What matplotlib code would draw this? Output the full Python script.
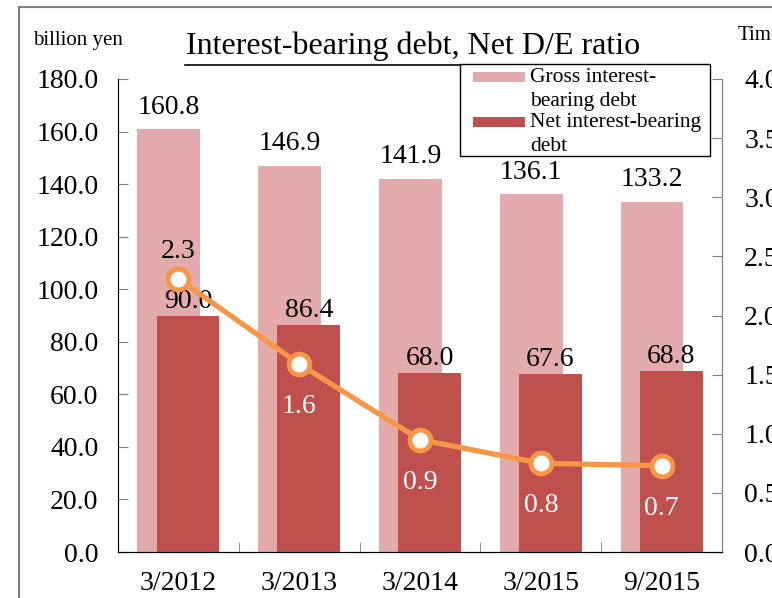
import matplotlib
matplotlib.use("Agg")
import matplotlib.pyplot as plt
from matplotlib.patches import Rectangle
import numpy as np

plt.rcParams['font.family'] = ['Liberation Serif', 'DejaVu Serif']

periods = ['3/2012', '3/2013', '3/2014', '3/2015', '9/2015']
gross_debt = [160.8, 146.9, 141.9, 136.1, 133.2]
net_debt = [90.0, 86.4, 68.0, 67.6, 68.8]
de_ratio = [2.31, 1.59, 0.95, 0.75, 0.73]
de_labels = ['2.3', '1.6', '0.9', '0.8', '0.7']
legend_labels = ['Gross interest-\nbearing debt', 'Net interest-bearing\ndebt']

gross_col = '#E3ABAB'
net_col = '#C0504D'
line_col = '#F79646'
W, H = 772, 598


def fx(px):
    return px / W


def fy(py):
    return 1 - py / H


fig = plt.figure(figsize=(W / 100, H / 100), dpi=100)
# outer frame of the original slide
fig.patches.append(Rectangle((fx(19), -0.1), 1.2, fy(7) + 0.1,
                             transform=fig.transFigure, fill=False,
                             edgecolor='#808080', linewidth=1.5))

ax = fig.add_axes([fx(118), fy(552), (722 - 118) / W, (552 - 79) / H])
x = np.arange(len(periods))
w = 0.52
ax.bar(x - 0.08, gross_debt, w, color=gross_col, zorder=2)
ax.bar(x + 0.08, net_debt, w, color=net_col, zorder=3)

for i in x:
    ax.text(i - 0.08, gross_debt[i] + 8.5, f'{gross_debt[i]:.1f}', ha='center', va='center', fontsize=20)
    ax.text(i + 0.08, net_debt[i] + 5.5, f'{net_debt[i]:.1f}', ha='center', va='center', fontsize=20)

ax.set_xlim(-0.5, len(periods) - 0.5)
ax.set_ylim(0, 180)
yt = np.arange(0, 181, 20)
ax.set_yticks(yt)
ax.set_yticklabels([f'{v:.1f}' for v in yt], fontsize=20)
ax.set_xticks(x)
ax.set_xticklabels(periods, fontsize=20)
ax.set_xticks(np.arange(0.5, len(periods) - 0.5, 1), minor=True)
ax.tick_params(axis='x', which='major', length=0, pad=14)
ax.tick_params(axis='x', which='minor', direction='in', length=7, color='#808080')
ax.tick_params(axis='y', direction='in', length=7, color='#808080', pad=14)
ax.spines['top'].set_visible(False)
ax.spines['left'].set_color('#808080')
ax.spines['right'].set_color('#808080')
ax.spines['bottom'].set_color('black')

ax2 = ax.twinx()
ax2.plot(x, de_ratio, color=line_col, linewidth=3.8, marker='o', markersize=15,
         markerfacecolor='white', markeredgecolor=line_col, markeredgewidth=3.5, zorder=5)
ax2.set_ylim(0, 4.0)
rt = np.arange(0, 4.01, 0.5)
ax2.set_yticks(rt)
ax2.set_yticklabels([f'{v:.1f}' for v in rt], fontsize=20)
ax2.tick_params(axis='y', direction='in', length=7, color='#808080', pad=16)
ax2.spines['top'].set_visible(False)
ax2.spines['right'].set_color('#808080')

for i in x:
    if i == 0:
        ax2.text(i, de_ratio[i] + 0.23, de_labels[i], ha='center', va='center', fontsize=20)
    else:
        ax2.text(i, de_ratio[i] - 0.36, de_labels[i], ha='center', va='center', fontsize=20, color='white')

# legend box drawn like the original (handle beside first text line)
fig.patches.append(Rectangle((fx(460), fy(156)), (710 - 460) / W, (156 - 64) / H,
                             transform=fig.transFigure, facecolor='white',
                             edgecolor='black', linewidth=1, zorder=10))
for k, (lab, col) in enumerate(zip(legend_labels, [gross_col, net_col])):
    first = 78 + k * 45
    fig.patches.append(Rectangle((fx(473), fy(first + 4)), 52 / W, 10 / H,
                                 transform=fig.transFigure, facecolor=col,
                                 edgecolor='none', zorder=11))
    for j, line in enumerate(lab.split('\n')):
        fig.text(fx(530), fy(first + j * 23.5), line, ha='left', va='center',
                 fontsize=15.5, zorder=12)

fig.text(fx(413), fy(46), 'Interest-bearing debt, Net D/E ratio', ha='center',
         va='center', fontsize=23)
fig.add_artist(plt.Line2D([fx(185), fx(640)], [fy(65), fy(65)], color='black', linewidth=1.2))
fig.text(fx(33), fy(41), 'billion yen', ha='left', va='center', fontsize=15)
fig.text(fx(738), fy(35), 'Times', ha='left', va='center', fontsize=15)

fig.savefig('out.png', dpi=100)
